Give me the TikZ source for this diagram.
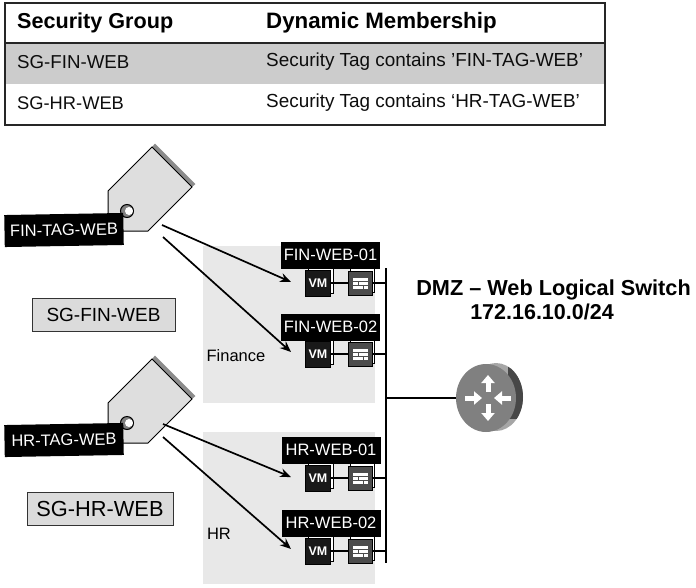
\documentclass[tikz,border=0pt]{standalone}
\usepackage{fontspec}
\setmainfont{Liberation Sans}
\usetikzlibrary{arrows.meta,shadows,shapes.geometric}

\newcommand{\tsize}[1]{\fontsize{#1}{#1}\selectfont}
\newcommand{\fwbricks}[1]{
  \fill[white] ([shift={(-7.5,-5.5)}]#1) rectangle ([shift={(7.5,-2.2)}]#1);
  \fill[white] ([shift={(-7.5,-1.2)}]#1) rectangle ([shift={(-2.5,1.6)}]#1);
  \fill[white] ([shift={(-1.2,-1.2)}]#1) rectangle ([shift={(7.5,1.6)}]#1);
  \fill[white] ([shift={(-7.5,2.6)}]#1) rectangle ([shift={(2.5,5.5)}]#1);
  \fill[white] ([shift={(3.8,2.6)}]#1) rectangle ([shift={(7.5,5.5)}]#1);
}
\tikzset{
  cell/.style={anchor=west,inner sep=0pt,text=black!95,font=\tsize{18.7}},
  head/.style={anchor=west,inner sep=0pt,font=\bfseries\tsize{21.6}},
  zone/.style={fill=black!9,draw=none},
  blacklabel/.style={fill=black,text=white,inner sep=0pt,minimum width=99pt,minimum height=27pt,font=\tsize{16.5}},
  taglabel/.style={fill=black,text=white,inner sep=0pt,minimum width=119pt,minimum height=32pt,rotate=1,font=\tsize{16.5}},
  sgbox/.style={draw=black!80,fill=black!14,inner sep=0pt,line width=.8pt},
  vm/.style={fill=black!90,draw=black,text=white,inner sep=0pt,minimum width=25pt,minimum height=26pt,
    font=\bfseries\tsize{12.5},copy shadow={shadow xshift=2.5pt,shadow yshift=2.5pt,fill=white,draw=black}},
  fw/.style={fill=black!70,draw=black,inner sep=0pt,minimum width=24pt,minimum height=24pt,
    copy shadow={shadow xshift=2.5pt,shadow yshift=2.5pt,fill=white,draw=black}},
  tagshape/.style={draw=black,fill=black!13,line width=1pt,line join=miter},
  link/.style={black,line width=1.3pt},
  pointer/.style={-{Stealth[length=11pt,width=9pt]},black,line width=1.7pt},
  spoke/.style={-{Triangle[length=8pt,width=13pt]},white,line width=5pt},
}

\begin{document}
\begin{tikzpicture}[x=1pt,y=-1pt]
        \useasboundingbox (0,0) rectangle (696,587);

        % table
        \fill[black!20] (5,43) rectangle (605,84);
        \draw[black!85,line width=1.3pt] (5,3) rectangle (605,125);
        \draw[black!85,line width=1.3pt] (5,43) -- (605,43);
        \node[head]  (Hgroup)   at (17,23)   {Security Group};
        \node[head,font=\bfseries\tsize{22.3}]  (Hmember)  at (266,23)  {Dynamic Membership};
        \node[cell]  (Rfin)     at (17,62)   {SG-FIN-WEB};
        \node[cell,font=\tsize{18.9}]  (Rfintag)  at (266,62)  {Security Tag contains ’FIN-TAG-WEB’};
        \node[cell,font=\tsize{18.3}]  (Rhr)      at (17,103)  {SG-HR-WEB};
        \node[cell,font=\tsize{18.9}]  (Rhrtag)   at (266,103) {Security Tag contains ‘HR-TAG-WEB’};

        % zones
        \fill[zone] (203,246) rectangle (375,403);
        \fill[zone] (203,432) rectangle (375,584);
        \node[inner sep=0pt,font=\tsize{16.5}]  (Finance)  at (236,356)  {Finance};
        \node[inner sep=0pt,font=\tsize{16.5}]  (HR)       at (219,534)  {HR};

        % tags
        \fill[black!45] (155,143.5) -- (195.5,184) -- (192,187) -- (152,147) -- cycle;
        \draw[tagshape] (152,147) -- (192,187) -- (148,231) -- (108,231) -- (108,191) -- cycle;
        \filldraw[fill=black!50,draw=black,line width=1pt] (127,211) circle (6.5);
        \fill[white] (129,211) circle (4);
        \fill[black!45] (155,355.5) -- (195.5,396) -- (192,399) -- (152,359) -- cycle;
        \draw[tagshape] (152,359) -- (192,399) -- (148,443) -- (108,443) -- (108,403) -- cycle;
        \filldraw[fill=black!50,draw=black,line width=1pt] (127,423) circle (6.5);
        \fill[white] (129,423) circle (4);
        \node[taglabel]  (FINtag)  at (64,230)   {FIN-TAG-WEB};
        \node[taglabel]  (HRtag)   at (64,440)   {HR-TAG-WEB};

        % security groups
        \node[sgbox,minimum width=143pt,minimum height=33pt,font=\tsize{19}]    (SGfin)  at (103.5,314.5)  {SG-FIN-WEB};
        \node[sgbox,minimum width=146pt,minimum height=33pt,font=\tsize{21.8}]  (SGhr)   at (100,508.5)    {SG-HR-WEB};

        % router
        \fill[black!35] (496,397) ellipse (27 and 34);
        \begin{scope}
          \clip (508,360) rectangle (530,418);
          \fill[black!72] (496,397) ellipse (27 and 34);
        \end{scope}
        \node[ellipse,fill=black!50,inner sep=0pt,minimum width=60pt,minimum height=68pt] (Router) at (486,398) {};

        % bus
        \coordinate (BusTop)  at (386,268);
        \coordinate (BusEnd)  at (386,563);
        \draw[link] (BusTop) -- (BusEnd);
        \draw[link] (Router) -- (Router -| BusTop);
        \draw[spoke] (488,392) -- (488,375);
        \draw[spoke] (488,404) -- (488,421);
        \draw[spoke] (465,398) -- (482,398);
        \draw[spoke] (511,398) -- (494,398);

        % machines
        \node[vm]  (VM1)  at (318,283)  {VM};
        \node[vm]  (VM2)  at (318,354)  {VM};
        \node[vm]  (VM3)  at (318,478)  {VM};
        \node[vm]  (VM4)  at (318,551)  {VM};
        \node[fw]  (FW1)  at (360,283)  {};
        \node[fw]  (FW2)  at (360,354)  {};
        \node[fw]  (FW3)  at (360,478)  {};
        \node[fw]  (FW4)  at (360,551)  {};
        \fwbricks{FW1}
        \fwbricks{FW2}
        \fwbricks{FW3}
        \fwbricks{FW4}

        \draw[link] (VM1) -- (FW1);
        \draw[link] (VM2) -- (FW2);
        \draw[link] (VM3) -- (FW3);
        \draw[link] (VM4) -- (FW4);
        \draw[link] (FW1.east) -- (FW1 -| BusTop);
        \draw[link] (FW2.east) -- (FW2 -| BusTop);
        \draw[link] (FW3.east) -- (FW3 -| BusTop);
        \draw[link] (FW4.east) -- (FW4 -| BusTop);

        \node[blacklabel]  (Web1)  at (330.5,255)  {FIN-WEB-01};
        \node[blacklabel]  (Web2)  at (330.5,327)  {FIN-WEB-02};
        \node[blacklabel]  (Web3)  at (331,450)    {HR-WEB-01};
        \node[blacklabel]  (Web4)  at (331,523)    {HR-WEB-02};

        % pointers
        \coordinate (FINa)  at (162,225);
        \coordinate (FINb)  at (163,237);
        \coordinate (HRa)   at (163,424);
        \coordinate (HRb)   at (163,437);
        \coordinate (Tip1)  at (291,282);
        \coordinate (Tip2)  at (291,352);
        \coordinate (Tip3)  at (291,477);
        \coordinate (Tip4)  at (291,549);
        \path[pointer] (FINa) edge (Tip1)
                       (FINb) edge (Tip2)
                       (HRa)  edge (Tip3)
                       (HRb)  edge (Tip4);

        % switch title
        \node[inner sep=0pt,font=\bfseries\tsize{21.7}]  (Title)   at (553.5,290)  {DMZ – Web Logical Switch};
        \node[inner sep=0pt,font=\bfseries\tsize{21.5}]  (Subnet)  at (542,312)    {172.16.10.0/24};
\end{tikzpicture}
\end{document}
